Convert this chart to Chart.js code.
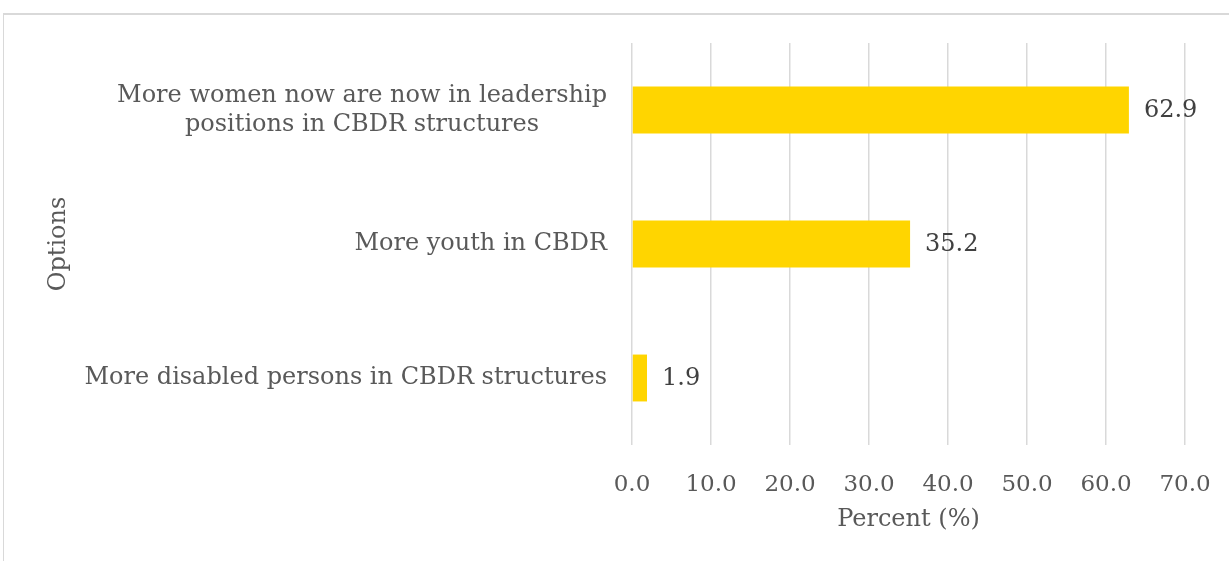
<!DOCTYPE html>
<html>
<head>
<meta charset="utf-8">
<script src="https://cdn.jsdelivr.net/npm/chart.js@4/dist/chart.umd.min.js"></script>
<style>
  html, body { margin: 0; padding: 0; background: #ffffff; }
  #wrap { position: relative; width: 1229px; height: 561px; overflow: hidden; }
  #frame { position: absolute; left: 3px; top: 13px; width: 1300px; height: 600px;
           border-top: 2px solid #d9d9d9; border-left: 1px solid #d9d9d9; box-sizing: border-box; }
  canvas { position: absolute; left: 0; top: 0; }
</style>
</head>
<body>
<div id="wrap">
  <div id="frame"></div>
  <canvas id="chart" width="1229" height="561"></canvas>
</div>
<script>
// Survey options (each entry may hold several lines)
const categories = [
  ["More women now are now in leadership", "positions in CBDR structures"],
  ["More youth in CBDR"],
  ["More disabled persons in CBDR structures"]
];
// Share of respondents, percent
const percentValues = [62.9, 35.2, 1.9];
// Axis settings
const xTickMin = 0;
const xTickMax = 70;
const xTickStep = 10;
const xAxisTitle = "Percent (%)";
const yAxisTitle = "Options";

const SERIF = "'DejaVu Serif', 'Liberation Serif', serif";
const LABEL_SIZE = 24;
const LABEL_LINE = 29;

// Draws the wrapped category labels, each line centred within its label block,
// blocks right-aligned against the plot area.
const categoryLabels = {
  id: 'categoryLabels',
  afterDraw(chart) {
    const ctx = chart.ctx;
    const y = chart.scales.y;
    const rightEdge = chart.chartArea.left - 25;
    ctx.save();
    ctx.font = LABEL_SIZE + "px " + SERIF;
    ctx.fillStyle = '#595959';
    ctx.textBaseline = 'middle';
    ctx.textAlign = 'center';
    categories.forEach((lines, i) => {
      const cy = y.getPixelForValue(i);
      const blockW = Math.max(...lines.map(l => ctx.measureText(l).width));
      const cx = rightEdge - blockW / 2;
      const top = cy - (lines.length - 1) * LABEL_LINE / 2;
      lines.forEach((l, j) => ctx.fillText(l, cx, top + j * LABEL_LINE));
    });
    ctx.restore();
  }
};

// Writes each bar's value just past its end.
const valueLabels = {
  id: 'valueLabels',
  afterDatasetsDraw(chart) {
    const ctx = chart.ctx;
    const meta = chart.getDatasetMeta(0);
    ctx.save();
    ctx.font = "24px " + SERIF;
    ctx.fillStyle = '#404040';
    ctx.textBaseline = 'middle';
    ctx.textAlign = 'left';
    meta.data.forEach((bar, i) => {
      ctx.fillText(percentValues[i].toFixed(1), bar.x + 15, bar.y + 1);
    });
    ctx.restore();
  }
};

new Chart(document.getElementById('chart'), {
  type: 'bar',
  data: {
    labels: categories.map(c => c.join(' ')),
    datasets: [{
      data: percentValues,
      backgroundColor: '#ffd500',
      borderWidth: 0,
      categoryPercentage: 1.0,
      barPercentage: 0.35
    }]
  },
  options: {
    indexAxis: 'y',
    responsive: false,
    animation: false,
    devicePixelRatio: 1,
    layout: { padding: { left: 40, right: 44, top: 43, bottom: 27 } },
    plugins: { legend: { display: false }, tooltip: { enabled: false } },
    scales: {
      x: {
        min: xTickMin,
        max: xTickMax,
        ticks: {
          stepSize: xTickStep,
          maxRotation: 0,
          callback: v => v.toFixed(1),
          color: '#595959',
          font: { family: SERIF, size: 23 },
          padding: 3
        },
        grid: {
          color: '#d9d9d9',
          lineWidth: 1.5,
          drawTicks: true,
          tickLength: 23,
          tickColor: 'rgba(0,0,0,0)'
        },
        border: { display: false },
        title: {
          display: true,
          text: xAxisTitle,
          color: '#595959',
          font: { family: SERIF, size: 24 },
          padding: { top: 4, bottom: 0 }
        },
        afterFit(scale) { scale.height = 89; }
      },
      y: {
        ticks: { display: false },
        grid: { display: false },
        border: { display: false },
        title: {
          display: true,
          text: yAxisTitle,
          color: '#595959',
          font: { family: SERIF, size: 24 }
        },
        afterFit(scale) { scale.width = 592; }
      }
    }
  },
  plugins: [categoryLabels, valueLabels]
});
</script>
</body>
</html>
